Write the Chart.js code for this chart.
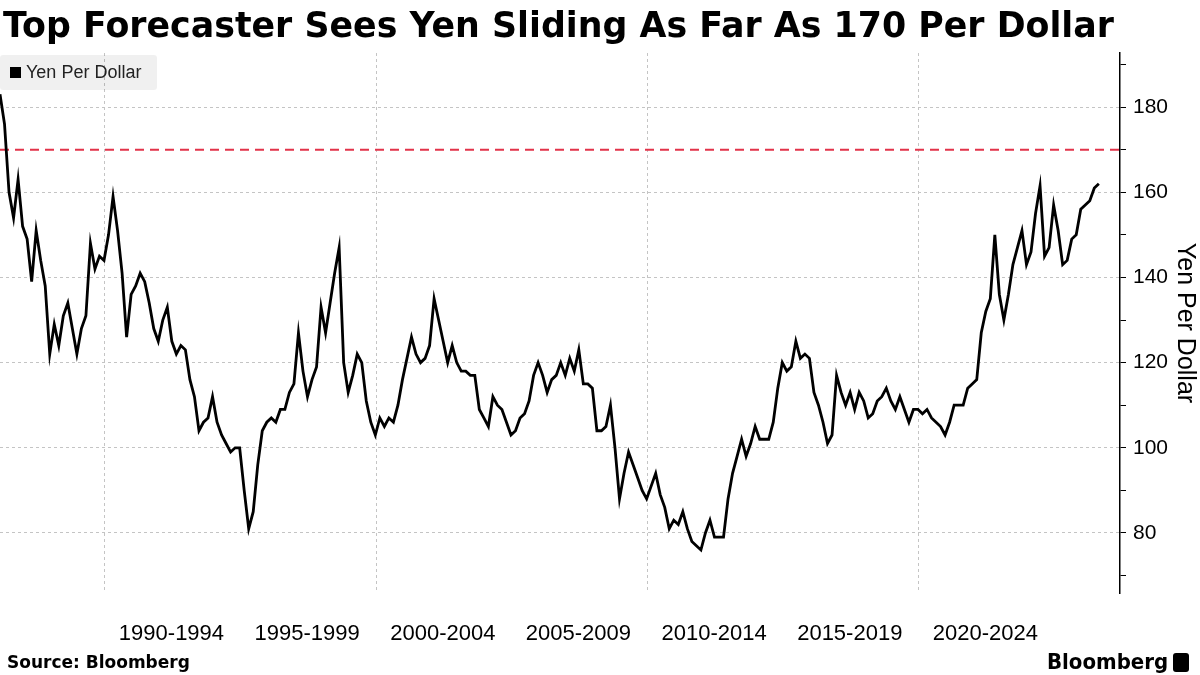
<!DOCTYPE html>
<html lang="en">
<head>
<meta charset="utf-8">
<title>Top Forecaster Sees Yen Sliding As Far As 170 Per Dollar</title>
<script src="https://cdn.jsdelivr.net/npm/chart.js@4.4.1/dist/chart.umd.min.js"></script>
<style>
    html, body { margin: 0; padding: 0; background: #fff; }
    body { width: 1200px; height: 675px; position: relative; overflow: hidden; }
    #chart { position: absolute; left: 0; top: 0; }
    h1 {
        position: absolute; left: 3px; top: 2px; margin: 0;
        font: bold 34.8px 'DejaVu Sans', sans-serif; line-height: 46px;
        color: #000; white-space: nowrap;
    }
    .legend {
        position: absolute; left: 0; top: 55px; width: 157px; height: 35px;
        background: rgba(0, 0, 0, 0.06); border-radius: 3px;
        font: 18px 'Liberation Sans', sans-serif; color: #222;
        line-height: 35px; box-sizing: border-box; padding-left: 26px;
    }
    .legend i {
        position: absolute; left: 10px; top: 12px; width: 11px; height: 11px; background: #000;
    }
    .source {
        position: absolute; left: 7px; top: 650px;
        font: bold 17px 'DejaVu Sans', sans-serif; color: #000; line-height: 24px;
    }
    .logo {
        position: absolute; left: 1047px; top: 648px;
        font: bold 22px 'DejaVu Sans Condensed', 'DejaVu Sans', sans-serif; color: #000; line-height: 28px;
    }
    .logo b {
        display: inline-block; width: 16px; height: 19px; margin-left: 5px; vertical-align: -3px;
        background: #000; border-radius: 3px;
    }
</style>
</head>
<body>
<canvas id="chart" width="1200" height="675"></canvas>
<h1>Top Forecaster Sees Yen Sliding As Far As 170 Per Dollar</h1>
<div class="legend"><i></i>Yen Per Dollar</div>
<div class="source">Source: Bloomberg</div>
<div class="logo">Bloomberg<b></b></div>
<script>
// Serie de yenes por dólar, un valor cada dos meses desde el inicio del gráfico
const START_YEAR = 1986.13;
const STEP_YEARS = 1 / 6;
const YEN_PER_DOLLAR = [
    183, 176, 160, 154, 163, 152, 149, 139, 151, 144,
    138, 122, 129, 124, 131, 134, 128, 122, 128, 131,
    148, 142, 145, 144, 150, 159, 151, 141, 126, 136,
    138, 141, 139, 134, 128, 125, 130, 133, 125, 122,
    124, 123, 116, 112, 104, 106, 107, 112, 106, 103,
    101, 99, 100, 100, 90, 81, 85, 96, 104, 106,
    107, 106, 109, 109, 113, 115, 127, 118, 112, 116,
    119, 133, 127, 134, 141, 147, 120, 113, 117, 122,
    120, 111, 106, 103, 107, 105, 107, 106, 110, 116,
    121, 126, 122, 120, 121, 124, 135, 130, 125, 120,
    124, 120, 118, 118, 117, 117, 109, 107, 105, 112,
    110, 109, 106, 103, 104, 107, 108, 111, 117, 120,
    117, 113, 116, 117, 120, 117, 121, 118, 123, 115,
    115, 114, 104, 104, 105, 110, 100, 88, 94, 99,
    96, 93, 90, 88, 91, 94, 89, 86, 81, 83,
    82, 85, 81, 78, 77, 76, 80, 83, 79, 79,
    79, 88, 94, 98, 102, 98, 101, 105, 102, 102,
    102, 106, 114, 120, 118, 119, 125, 121, 122, 121,
    113, 110, 106, 101, 103, 117, 113, 110, 113, 109,
    113, 111, 107, 108, 111, 112, 114, 111, 109, 112,
    109, 106, 109, 109, 108, 109, 107, 106, 105, 103,
    106, 110, 110, 110, 114, 115, 116, 127, 132, 135,
    150, 136, 130, 136, 143, 147, 151, 143, 146, 155,
    161.5, 145, 147, 157, 151, 143, 144, 149, 150, 156,
    157, 158, 161, 162
];

// Etiquetas de periodos y líneas de década del eje X
const PERIOD_LABELS = ['1990-1994', '1995-1999', '2000-2004', '2005-2009', '2010-2014', '2015-2019', '2020-2024'];
const PERIOD_STARTS = [1990, 1995, 2000, 2005, 2010, 2015, 2020];
const DECADE_LINES = [1990, 2000, 2010, 2020];
const FORECAST_LEVEL = 170;

// Límites de los ejes
const X_MAX = 2027.41;
const LABEL_SHIFT = 2.45;
const Y_MIN = 65.9;
const Y_MAX = 192.7;

// Marcas del eje X: líneas de década sin texto y etiquetas de periodo sin línea
const X_TICKS = [
    ...DECADE_LINES.map(year => ({ value: year, label: '' })),
    ...PERIOD_STARTS.map((year, i) => ({ value: year + LABEL_SHIFT, label: PERIOD_LABELS[i] }))
].sort((a, b) => a.value - b.value);

const POINTS = YEN_PER_DOLLAR.map((value, i) => ({ x: START_YEAR + i * STEP_YEARS, y: value }));

const GRID_COLOR = '#c4c4c4';

new Chart(document.getElementById('chart'), {
    type: 'line',
    data: {
        datasets: [{
            label: 'Yen Per Dollar',
            data: POINTS,
            borderColor: '#000',
            borderWidth: 2.8,
            pointRadius: 0,
            tension: 0
        }, {
            label: 'Forecast',
            data: [{ x: START_YEAR, y: FORECAST_LEVEL }, { x: X_MAX, y: FORECAST_LEVEL }],
            borderColor: '#e2334a',
            borderWidth: 2,
            borderDash: [9, 6],
            pointRadius: 0
        }]
    },
    options: {
        responsive: false,
        animation: false,
        devicePixelRatio: 1,
        layout: { padding: { top: 53, left: 0, right: 0, bottom: 0 } },
        plugins: {
            legend: { display: false },
            tooltip: { enabled: false }
        },
        scales: {
            x: {
                type: 'linear',
                min: START_YEAR,
                max: X_MAX,
                afterBuildTicks: (scale) => { scale.ticks = X_TICKS.map(t => ({ value: t.value })); },
                afterFit: (scale) => { scale.height = 82; },
                grid: {
                    color: (ctx) => (ctx.tick && DECADE_LINES.includes(ctx.tick.value)) ? GRID_COLOR : 'rgba(0,0,0,0)',
                    lineWidth: 1,
                    drawTicks: false
                },
                border: { display: false, dash: [3, 3] },
                ticks: {
                    autoSkip: false,
                    maxRotation: 0,
                    padding: 28,
                    color: '#000',
                    font: { family: 'Liberation Sans', size: 22 },
                    callback: (value, index) => X_TICKS[index] ? X_TICKS[index].label : ''
                }
            },
            y: {
                position: 'right',
                min: Y_MIN,
                max: Y_MAX,
                afterFit: (scale) => { scale.width = 80; },
                grid: {
                    color: (ctx) => (ctx.tick && ctx.tick.value % 20 === 0) ? GRID_COLOR : 'rgba(0,0,0,0)',
                    tickColor: '#000',
                    tickLength: 6,
                    lineWidth: 1
                },
                border: { display: true, color: '#000', width: 1.5, dash: [3, 3] },
                ticks: {
                    stepSize: 10,
                    includeBounds: false,
                    padding: 7,
                    color: '#000',
                    font: { family: 'Liberation Sans', size: 21 },
                    callback: (value) => value % 20 === 0 ? value : ''
                },
                title: {
                    display: true,
                    text: 'Yen Per Dollar',
                    color: '#000',
                    font: { family: 'Liberation Sans', size: 25 },
                    padding: { top: 0, bottom: 0 }
                }
            }
        }
    }
});
</script>
</body>
</html>
